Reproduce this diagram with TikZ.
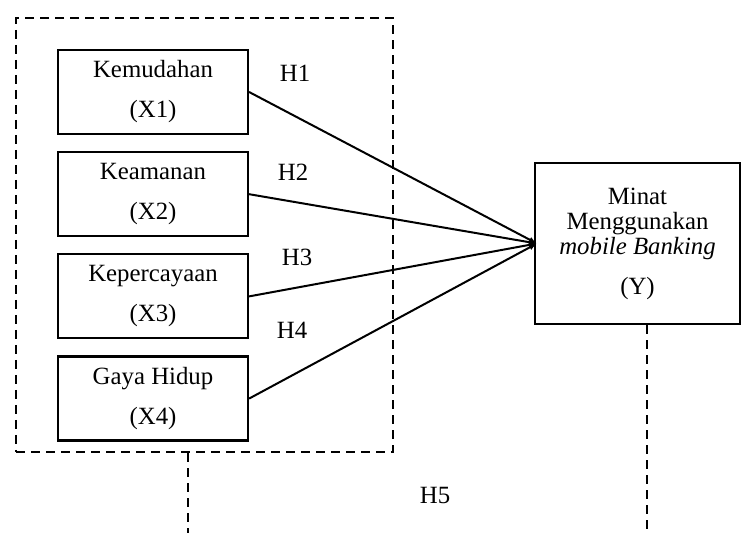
\documentclass[tikz,border=0pt]{standalone}
\usepackage{fontspec}
\setmainfont{Liberation Serif}
\usetikzlibrary{arrows.meta,positioning}
\tikzset{
    variabel/.style = {rectangle, draw=black, line width=1.1pt, minimum width=95pt, minimum height=42pt, text centered, align=center, inner sep=0pt},
    terikat/.style = {rectangle, draw=black, line width=1.1pt, minimum width=102.5pt, minimum height=80.5pt, text centered, align=center, inner sep=0pt},
    kelompok/.style = {rectangle, draw=black, line width=1.1pt, dash pattern=on 4.5pt off 3pt, minimum width=188.5pt, minimum height=217pt, inner sep=0pt},
    garis/.style = {line width=1pt, -{Latex[length=4pt,width=3pt]}},
    putus/.style = {line width=1.1pt, dash pattern=on 4.5pt off 3pt}
}

\begin{document}
\begin{tikzpicture}[x=0.5pt, y=-0.5pt, node distance=8pt, font=\fontsize{12.4}{20}\selectfont]
    \useasboundingbox (0,0) rectangle (744,533);

    % Variables
    \node [kelompok] (semua) at (204.5,235) {};
    \node [variabel] (x1) at (153,92) {Kemudahan\\(X1)};
    \node [variabel, below=of x1] (x2) {Keamanan\\(X2)};
    \node [variabel, below=of x2] (x3) {Kepercayaan\\(X3)};
    \node [variabel, below=of x3] (x4) {Gaya Hidup\\(X4)};

    \node [terikat, font=\fontsize{12.4}{12.5}\selectfont] (minat) at (637.5,243.5) {Minat\\Menggunakan\\\textit{mobile Banking}\\[7.5pt](Y)};

    % Hypotheses
    \coordinate (temu) at ([xshift=1.5pt]minat.west);
    \draw [garis] (x1.east) -- (temu);
    \draw [garis] (x2.east) -- (temu);
    \draw [garis] (x3.east) -- (temu);
    \draw [garis] (x4.east) -- (temu);

    \node (h1) at (295,73) {H1};
    \node (h2) at (293,172) {H2};
    \node (h3) at (297,257) {H3};
    \node (h4) at (292,330) {H4};
    \node (h5) at (435,496) {H5};

    % Simultan
    \coordinate (kiri) at (188,533);
    \coordinate (kanan) at (647,533);
    \draw [putus] (kiri |- semua.south) -- (kiri);
    \draw [putus] (kanan |- minat.south) -- (kanan);
\end{tikzpicture}
\end{document}
